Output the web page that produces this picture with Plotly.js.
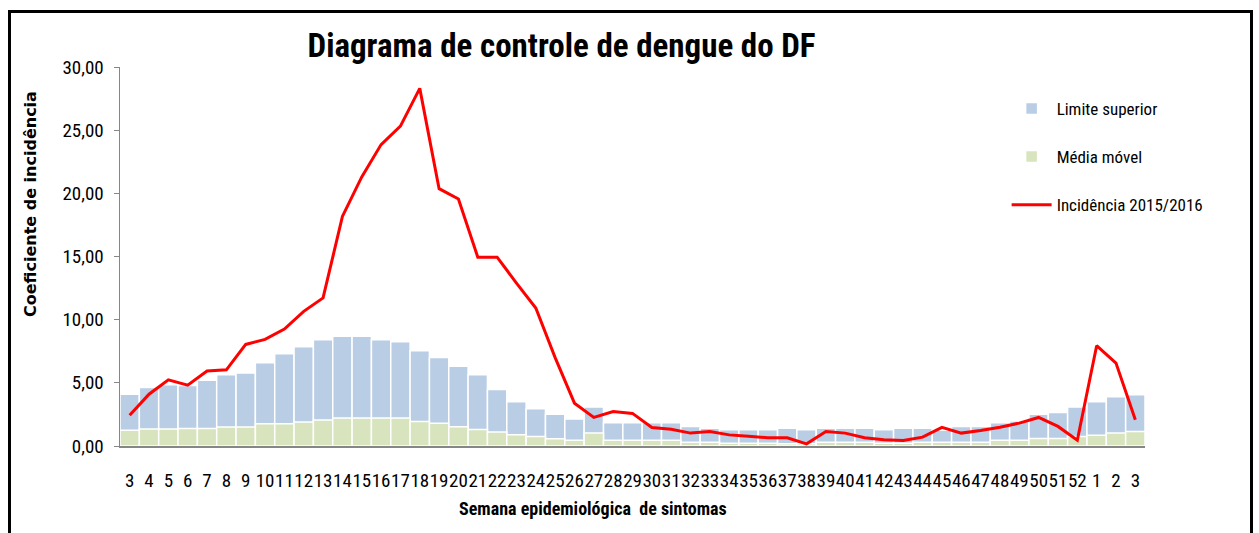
<!DOCTYPE html>
<html>
<head>
<meta charset="utf-8">
<script src="https://cdn.plot.ly/plotly-3.0.1.min.js"></script>
<style>html,body{margin:0;padding:0;background:#fff;} #chart{width:1259px;height:533px;}</style>
</head>
<body>
<div id="chart"></div>
<script>
// Epidemiological weeks (2015 week 3 ... week 52, then 2016 weeks 1-3)
const weekLabels = ["3","4","5","6","7","8","9","10","11","12","13","14","15","16","17","18","19","20","21","22","23","24","25","26","27","28","29","30","31","32","33","34","35","36","37","38","39","40","41","42","43","44","45","46","47","48","49","50","51","52","1","2","3"];
const weekYears = [2015,2015,2015,2015,2015,2015,2015,2015,2015,2015,2015,2015,2015,2015,2015,2015,2015,2015,2015,2015,2015,2015,2015,2015,2015,2015,2015,2015,2015,2015,2015,2015,2015,2015,2015,2015,2015,2015,2015,2015,2015,2015,2015,2015,2015,2015,2015,2015,2015,2015,2016,2016,2016];

const limiteSuperior = [4.10,4.63,4.84,4.79,5.21,5.63,5.77,6.59,7.30,7.86,8.41,8.68,8.68,8.41,8.25,7.54,7.01,6.32,5.63,4.47,3.51,2.95,2.52,2.13,3.08,1.84,1.84,1.84,1.84,1.55,1.41,1.28,1.28,1.28,1.41,1.28,1.41,1.41,1.41,1.28,1.41,1.41,1.25,1.55,1.55,1.84,1.97,2.52,2.66,3.08,3.50,3.90,4.05];

const mediaMovel = [1.24,1.35,1.35,1.38,1.38,1.51,1.51,1.77,1.77,1.90,2.06,2.22,2.22,2.22,2.22,1.93,1.80,1.53,1.30,1.10,0.90,0.75,0.57,0.46,1.02,0.46,0.46,0.46,0.46,0.30,0.30,0.22,0.22,0.22,0.17,0.17,0.30,0.30,0.30,0.22,0.22,0.30,0.30,0.30,0.30,0.46,0.46,0.59,0.59,0.75,0.86,1.02,1.15];

const incidencia = [2.43,4.10,5.24,4.81,5.93,6.03,8.04,8.44,9.26,10.66,11.72,18.17,21.30,23.86,25.32,28.31,20.37,19.55,14.95,14.95,12.90,10.92,7.00,3.39,2.26,2.73,2.58,1.47,1.33,1.02,1.15,0.88,0.78,0.65,0.65,0.17,1.15,1.02,0.65,0.49,0.44,0.70,1.47,1.02,1.23,1.49,1.81,2.26,1.55,0.46,7.94,6.56,2.07];

const categories = weekLabels.map((w, i) => weekYears[i] + "-S" + w);

const narrow = "Liberation Sans Narrow, Roboto Condensed, Liberation Sans, Arial, sans-serif";

const traces = [
  {type: "bar", name: "Limite superior", x: categories, y: limiteSuperior,
   marker: {color: "#B9CDE5", line: {color: "#ffffff", width: 1.5}}, legendgroup: "a"},
  {type: "bar", name: "Média móvel", x: categories, y: mediaMovel,
   marker: {color: "#D7E4BD", line: {color: "#ffffff", width: 1.5}}, legendgroup: "b"},
  {type: "scatter", mode: "lines", name: "Incidência 2015/2016", x: categories, y: incidencia,
   line: {color: "#FF0000", width: 3}, legendgroup: "c"}
];

const layout = {
  width: 1259, height: 533,
  margin: {l: 120, r: 114, t: 67, b: 87},
  paper_bgcolor: "#ffffff", plot_bgcolor: "#ffffff",
  barmode: "overlay", bargap: 0,
  separators: ",.",
  showlegend: true,
  title: {text: "<b>Diagrama de controle de dengue do DF</b>", font: {family: narrow, size: 33, color: "#000"},
          x: 0.446, xanchor: "center", xref: "container", y: 0.915, yanchor: "middle", yref: "container"},
  xaxis: {type: "category", categoryorder: "array", categoryarray: categories,
          tickvals: categories, ticktext: weekLabels, tickangle: 0,
          showline: true, linecolor: "#868686", linewidth: 2, ticks: "",
          showgrid: false, zeroline: false, ticklabelstandoff: 16,
          tickfont: {family: narrow, size: 19, color: "#000"}},
  yaxis: {range: [0, 30], tickvals: [0,5,10,15,20,25,30], tickformat: ".2f",
          showline: true, linecolor: "#868686", linewidth: 1.5, ticks: "outside", ticklen: 5, tickcolor: "#868686",
          showgrid: false, zeroline: false, ticklabelstandoff: 6,
          tickfont: {family: narrow, size: 19, color: "#000"}},
  legend: {x: 0.865, y: 0.937, xanchor: "left", yanchor: "top", traceorder: "grouped", tracegroupgap: 23,
           font: {family: narrow, size: 17, color: "#000"}, bgcolor: "rgba(0,0,0,0)", itemwidth: 40},
  annotations: [
    {text: "<b>Coeficiente de incidência</b>", textangle: -90, xref: "paper", yref: "paper",
     x: (30 - 120) / 1025, y: (446 - 204) / 379, xanchor: "center", yanchor: "middle", showarrow: false,
     font: {family: "DejaVu Sans, Verdana, sans-serif", size: 16, color: "#000"}},
    {text: "<b>Semana epidemiológica  de sintomas</b>", xref: "paper", yref: "paper",
     x: (593 - 120) / 1025, y: (446 - 508) / 379, xanchor: "center", yanchor: "middle", showarrow: false,
     font: {family: narrow, size: 18, color: "#000"}}
  ],
  shapes: [
    {type: "rect", xref: "paper", yref: "paper",
     x0: (9.5 - 120) / 1025, x1: (1251.5 - 120) / 1025, y0: (446 - 560) / 379, y1: (446 - 11.5) / 379,
     line: {color: "#000", width: 3}, fillcolor: "rgba(0,0,0,0)", layer: "above"}
  ]
};

Plotly.newPlot("chart", traces, layout, {displayModeBar: false, staticPlot: true});
</script>
</body>
</html>
